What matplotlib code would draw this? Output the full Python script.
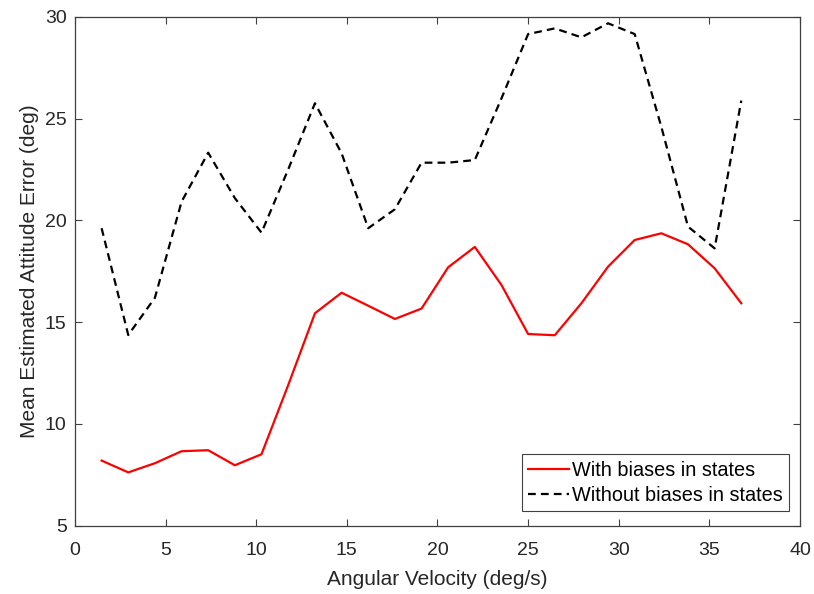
import numpy as np
import matplotlib.pyplot as plt

plt.rcParams['font.family'] = ['Liberation Sans', 'DejaVu Sans']

# angular velocity samples (deg/s)
velocity = [1.47, 2.94, 4.41, 5.88, 7.35, 8.82, 10.29, 11.76, 13.24, 14.71,
            16.18, 17.65, 19.12, 20.59, 22.06, 23.53, 25.00, 26.47, 27.94, 29.41,
            30.88, 32.35, 33.82, 35.29, 36.76]

with_biases = [8.20, 7.62, 8.07, 8.66, 8.71, 7.97, 8.51, 11.9, 15.44, 16.45,
               15.81, 15.16, 15.67, 17.70, 18.70, 16.83, 14.42, 14.36, 15.93, 17.73,
               19.04, 19.37, 18.83, 17.65, 15.93]

without_biases = [19.62, 14.37, 16.2, 20.92, 23.33, 21.1, 19.40, 22.5, 25.76, 23.30,
                  19.62, 20.55, 22.84, 22.84, 22.97, 26.0, 29.16, 29.44, 29.0, 29.69,
                  29.16, 24.6, 19.70, 18.63, 25.89]

labels = ['With biases in states', 'Without biases in states']

axis_color = '#404040'
text_color = '#262626'

fig = plt.figure(figsize=(8.14, 5.94), dpi=100)
ax = fig.add_axes([0.0921, 0.1150, 0.8907, 0.8564])

ax.plot(velocity, with_biases, color='red', lw=1.6, label=labels[0])
ax.plot(velocity, without_biases, color='black', lw=1.6, ls=(0, (3.5, 2.3)), label=labels[1])

ax.set_xlim(0, 40)
ax.set_ylim(5, 30)
ax.set_xticks(range(0, 41, 5))
ax.set_yticks(range(5, 31, 5))

ax.tick_params(direction='in', top=True, right=True, length=5, width=0.8,
               colors=axis_color, labelsize=14, labelcolor=text_color)
ax.tick_params(axis='x', pad=12)
ax.tick_params(axis='y', pad=6)
for s in ax.spines.values():
    s.set_color(axis_color)
    s.set_linewidth(0.9)

ax.set_xlabel('Angular Velocity (deg/s)', fontsize=15, color=text_color, labelpad=8)
ax.set_ylabel('Mean Estimated Attitude Error (deg)', fontsize=15, color=text_color, labelpad=4)

leg = ax.legend(loc='lower right', bbox_to_anchor=(0.985, 0.029), fontsize=14.3,
                fancybox=False, framealpha=1, edgecolor=axis_color,
                handlelength=2.05, handletextpad=0.15, borderpad=0.32,
                labelspacing=0.3, borderaxespad=0)
leg.get_frame().set_linewidth(0.8)

fig.savefig('out.png', dpi=100)
